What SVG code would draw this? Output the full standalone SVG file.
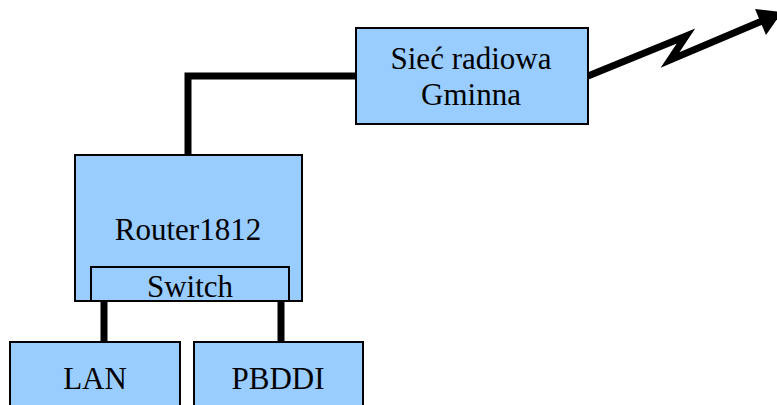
<svg xmlns="http://www.w3.org/2000/svg" width="777" height="405" viewBox="0 0 777 405">
<style>
.box{fill:#99CCFF;stroke:#000;stroke-width:2}
.conn{fill:none;stroke:#000;stroke-width:7;stroke-linejoin:miter}
text{font-family:"Liberation Serif","Times New Roman",serif;font-size:31px;fill:#000;text-anchor:middle}
</style>
<rect width="777" height="405" fill="#fff"/>
<g id="connectors">
<polyline class="conn" points="356,76 188,76 188,156"/>
<line class="conn" x1="104" y1="301" x2="104" y2="342"/>
<line class="conn" x1="281" y1="301" x2="281" y2="342"/>
<polyline class="conn" points="588,76 686,36 670,60 762,21"/>
<polygon points="755,9 782,12 766,35" fill="#000"/>
</g>
<g id="siec">
<rect class="box" x="356" y="28" width="232" height="96"/>
<text x="471" y="69">Sieć radiowa</text>
<text x="471" y="105">Gminna</text>
</g>
<g id="router">
<rect class="box" x="75" y="155" width="227" height="146"/>
<text x="188" y="240">Router1812</text>
</g>
<g id="switch">
<rect class="box" x="91" y="267" width="198" height="34"/>
<text x="190" y="297">Switch</text>
</g>
<g id="lan">
<rect class="box" x="10" y="342" width="170" height="70"/>
<text x="95" y="389">LAN</text>
</g>
<g id="pbddi">
<rect class="box" x="194" y="342" width="169" height="70"/>
<text x="278" y="389">PBDDI</text>
</g>
</svg>
